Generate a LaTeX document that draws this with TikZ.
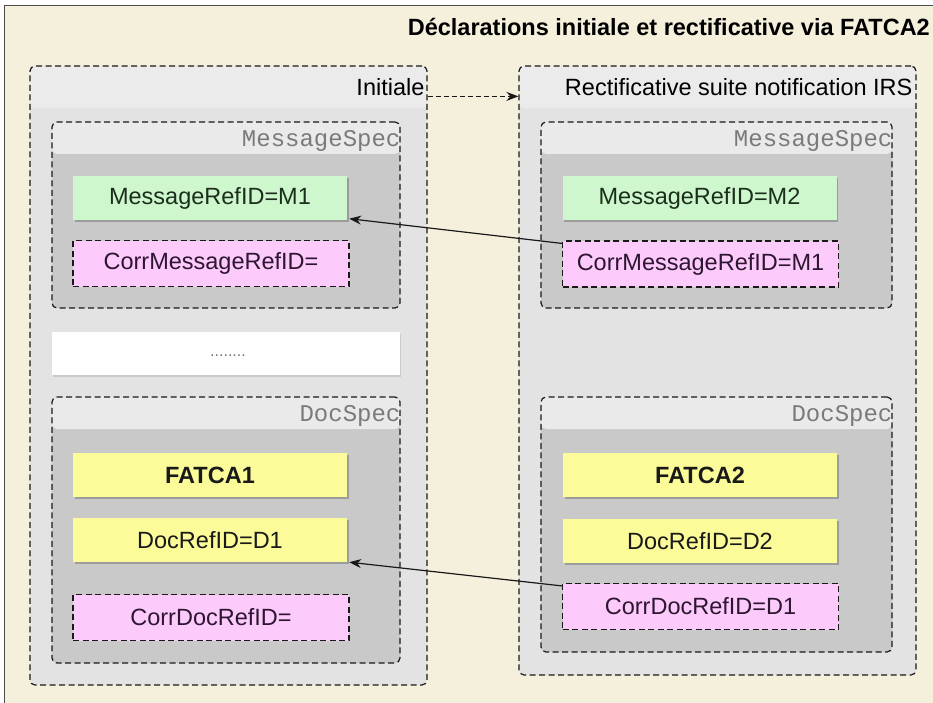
\documentclass[tikz,border=0pt]{standalone}
\usepackage{fontspec}
\setmainfont{Liberation Sans}
\setmonofont{Liberation Mono}
\usetikzlibrary{positioning,arrows.meta,shadows}
\definecolor{beige}{HTML}{F5F0DC}
\definecolor{contgray}{HTML}{E3E3E3}
\definecolor{conthdr}{HTML}{EBEBEB}
\definecolor{specbody}{HTML}{C9C9C9}
\definecolor{spechdr}{HTML}{EAEAEA}
\definecolor{grn}{HTML}{CEF7CE}
\definecolor{pnk}{HTML}{FCCBFC}
\definecolor{ylw}{HTML}{FBFB99}
\definecolor{grntxt}{HTML}{1C2E1C}
\definecolor{pnktxt}{HTML}{2E1630}

\begin{document}
\begin{tikzpicture}[x=1pt,y=-1pt,node distance=65pt,on grid,
    every node/.style={font=\fontsize{23.5pt}{27pt}\selectfont},
    frame/.style={draw=black!90,dash pattern=on 6pt off 3.5pt,line width=1.2pt,rounded corners=5pt,inner sep=0pt},
    cont/.style={frame,fill=contgray,minimum width=397pt,
      path picture={\fill[conthdr] (path picture bounding box.north west) rectangle ([yshift=-42pt]path picture bounding box.north east);}},
    spec/.style={frame,fill=specbody,
      path picture={\fill[spechdr] (path picture bounding box.north west) rectangle ([yshift=-32pt]path picture bounding box.north east);}},
    spectxt/.style={anchor=base east,inner sep=0pt,text=black!52,font=\ttfamily\fontsize{24pt}{28pt}\selectfont},
    fld/.style={minimum width=274pt,minimum height=44pt,inner sep=0pt,
      drop shadow={shadow xshift=1.5pt,shadow yshift=-1.5pt,fill=black,opacity=.22}},
    corr/.style={fill=pnk,draw=black!90,dash pattern=on 6pt off 3.5pt,line width=1.2pt,
      minimum width=276pt,minimum height=46pt,inner sep=0pt,text=pnktxt},
    link/.style={-{Stealth[length=12pt,width=9pt]},line width=1.2pt,black!90}]

  % page and frame
  \useasboundingbox (0,0) rectangle (933,703);
  \fill[white] (0,0) rectangle (933,703);
  \fill[beige] (4,6) rectangle (940,710);
  \draw[black!70,line width=1pt] (4,710) -- (4,6) -- (940,6);
  \node[anchor=base east,inner sep=0pt,font=\bfseries\fontsize{23.5pt}{27pt}\selectfont] (title) at (930,36)
    {Déclarations initiale et rectificative via FATCA2};

  % the two declarations
  \node[cont,minimum height=619pt] (ini) at (228.5,375.5) {};
  \node[cont,minimum height=609pt] (rect) at (717.5,370.5) {};
  \node[anchor=base east,inner sep=0pt] (tini) at ([xshift=-3pt,yshift=-30pt]ini.north east) {Initiale};
  \node[anchor=base east,inner sep=0pt] (trect) at ([xshift=-4pt,yshift=-30pt]rect.north east) {Rectificative suite notification IRS};
  \draw[link,line width=1.3pt,dash pattern=on 5pt off 3pt] ([yshift=-31pt]ini.north east) -- ([yshift=-31pt]rect.north west);

  % MessageSpec
  \node[spec,minimum width=348pt,minimum height=186pt] (ms1) at (226,215) {};
  \node[spec,minimum width=351pt,minimum height=186pt] (ms2) at (716.5,215) {};
  \node[spectxt] (tms1) at ([yshift=-25pt]ms1.north east) {MessageSpec};
  \node[spectxt] (tms2) at ([yshift=-25pt]ms2.north east) {MessageSpec};
  \node[fld,fill=grn,text=grntxt] (mref1) at (210,198.5) {MessageRefID=M1};
  \node[corr] (cm1) [below=65pt of mref1,xshift=1pt] {CorrMessageRefID=};
  \node[fld,fill=grn,text=grntxt] (mref2) at (699.5,198.5) {MessageRefID=M2};
  \node[corr] (cm2) [below=65.5pt of mref2,xshift=1pt] {CorrMessageRefID=M1};

  % elided part
  \node[fill=white,minimum width=348pt,minimum height=43pt,inner sep=0pt,
    drop shadow={shadow xshift=1pt,shadow yshift=-1.5pt,fill=black,opacity=.1}] (gap) at (226,353.5) {};
  \node[inner sep=0pt,text=black!55,font=\fontsize{16pt}{18pt}\selectfont] (dots) at (228,356) {........};

  % DocSpec
  \node[spec,minimum width=348pt,minimum height=266pt] (ds1) at (226,530) {};
  \node[spec,minimum width=351pt,minimum height=255pt] (ds2) at (716.5,524.5) {};
  \node[spectxt] (tds1) at ([yshift=-25pt]ds1.north east) {DocSpec};
  \node[spectxt] (tds2) at ([yshift=-25pt]ds2.north east) {DocSpec};
  \node[fld,fill=ylw,text=black!90,font=\bfseries\fontsize{23.5pt}{27pt}\selectfont] (fatca1) at (210,475) {FATCA1};
  \node[fld,fill=ylw,text=black!90] (dref1) [below=65pt of fatca1] {DocRefID=D1};
  \node[corr] (cd1) [below=77.5pt of dref1,xshift=1pt] {CorrDocRefID=};
  \node[fld,fill=ylw,text=black!90,font=\bfseries\fontsize{23.5pt}{27pt}\selectfont] (fatca2) at (700,475) {FATCA2};
  \node[fld,fill=ylw,text=black!90] (dref2) [below=66pt of fatca2] {DocRefID=D2};
  \node[corr] (cd2) [below=65.5pt of dref2,xshift=0.5pt] {CorrDocRefID=D1};

  % corrections point back
  \draw[link] ([yshift=-3pt]cm2.north west) -- ([yshift=2pt,xshift=2pt]mref1.south east);
  \draw[link] ([yshift=-3pt]cd2.north west) -- ([yshift=0pt,xshift=2pt]dref1.south east);
\end{tikzpicture}
\end{document}
